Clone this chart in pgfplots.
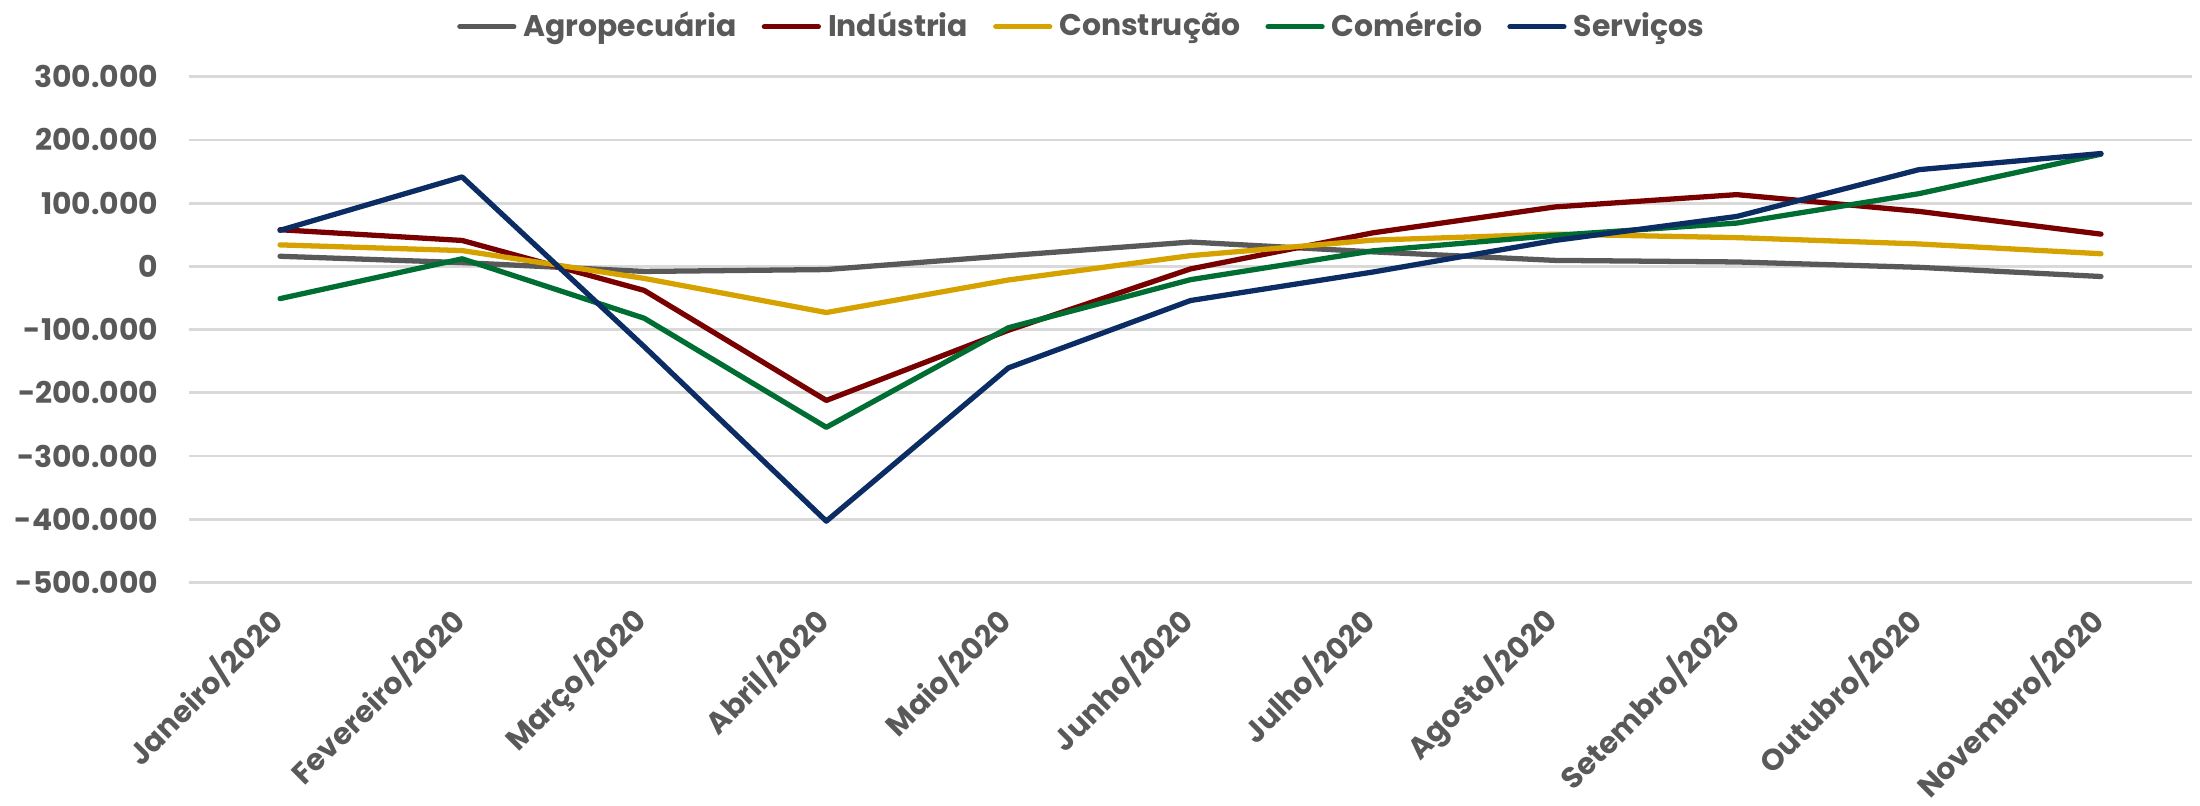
\documentclass[border=0pt]{standalone}
\usepackage{fontspec}
\setmainfont{Poppins}
\usepackage{pgfplots}
\pgfplotsset{compat=1.18}
\definecolor{cgray}{RGB}{89,89,89}
\definecolor{cred}{RGB}{120,0,0}
\definecolor{cgold}{RGB}{214,162,0}
\definecolor{cgreen}{RGB}{0,110,50}
\definecolor{cnavy}{RGB}{12,45,100}
\definecolor{gridc}{RGB}{217,217,217}
\begin{document}
\begin{tikzpicture}
\path[use as bounding box] (-1.89cm,-2.225cm) rectangle (20.11cm,5.825cm);
\begin{axis}[
  at={(0,0)}, anchor=south west,
  scale only axis,
  width=20.03cm, height=5.058cm,
  xmin=-0.5, xmax=10.5,
  ymin=-500000, ymax=300000,
  scaled y ticks=false,
  xtick={0,...,10},
  xticklabels={Janeiro/2020,Fevereiro/2020,Março/2020,Abril/2020,Maio/2020,Junho/2020,Julho/2020,Agosto/2020,Setembro/2020,Outubro/2020,Novembro/2020},
  ytick={-500000,-400000,-300000,-200000,-100000,0,100000,200000,300000},
  yticklabels={-500.000,-400.000,-300.000,-200.000,-100.000,0,100.000,200.000,300.000},
  axis line style={draw=none},
  major tick length=0pt,
  ymajorgrids,
  grid style={gridc, line width=0.8pt},
  tick label style={font=\fontsize{8.5}{10}\selectfont\bfseries, text=cgray},
  xticklabel style={rotate=45, anchor=east, inner sep=1pt},
  xticklabel shift={3mm},
  yticklabel style={xshift=-3mm, inner sep=0pt},
  every axis plot/.append style={line width=1.5pt, line join=round, line cap=round},
  legend columns=5,
  legend style={at={(0.447,1)}, anchor=center, yshift=0.5cm, draw=none, fill=none,
    font=\fontsize{8.5}{10}\selectfont\bfseries, text=cgray,
    /tikz/every even column/.append style={column sep=1.8mm},
    inner sep=0pt},
  legend image code/.code={\draw[#1, line cap=round] (0mm,0mm) -- (5.4mm,0mm);},
  legend cell align=left,
]
\addplot[cgray] coordinates {(0,16000)(1,6000)(2,-8000)(3,-5000)(4,17000)(5,38500)(6,23000)(7,9500)(8,7000)(9,-1500)(10,-16000)};
\addlegendentry{Agropecuária}
\addplot[cred] coordinates {(0,58000)(1,41000)(2,-38000)(3,-212000)(4,-101000)(5,-4000)(6,53000)(7,94000)(8,113500)(9,87000)(10,51000)};
\addlegendentry{Indústria}
\addplot[cgold] coordinates {(0,34000)(1,25000)(2,-19000)(3,-73000)(4,-21500)(5,17000)(6,41500)(7,51000)(8,45500)(9,35500)(10,20000)};
\addlegendentry{Construção}
\addplot[cgreen] coordinates {(0,-51000)(1,12000)(2,-82000)(3,-254500)(4,-97000)(5,-21000)(6,24500)(7,49000)(8,68500)(9,115000)(10,177500)};
\addlegendentry{Comércio}
\addplot[cnavy] coordinates {(0,57000)(1,141500)(2,-127000)(3,-403000)(4,-160500)(5,-54000)(6,-9000)(7,41000)(8,79000)(9,153000)(10,178500)};
\addlegendentry{Serviços}
\end{axis}
\end{tikzpicture}
\end{document}
